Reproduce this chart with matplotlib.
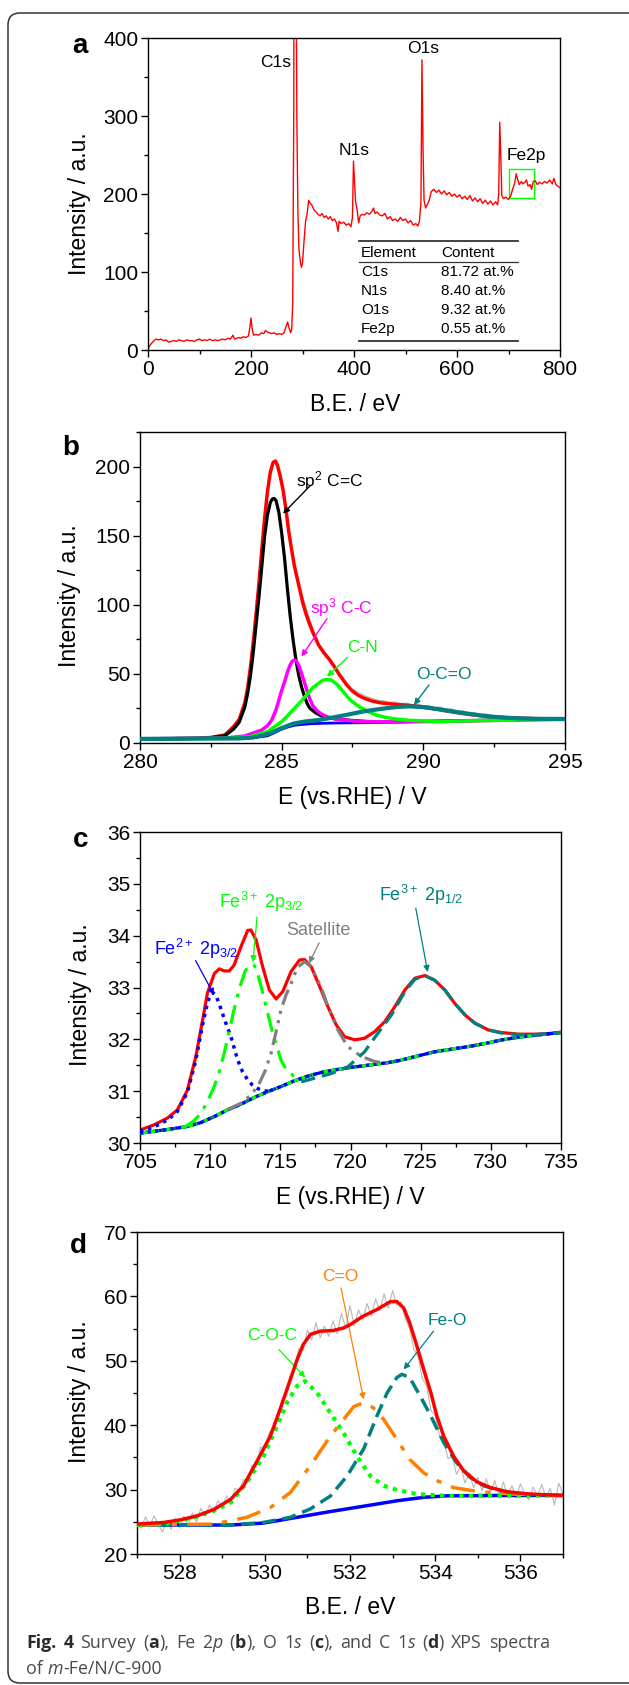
import numpy as np
import matplotlib
matplotlib.use("Agg")
import matplotlib.pyplot as plt
from matplotlib.ticker import MultipleLocator
from matplotlib.patches import FancyBboxPatch, Rectangle

plt.rcParams['font.family'] = ['Liberation Sans', 'DejaVu Sans']
plt.rcParams['mathtext.fontset'] = 'custom'
plt.rcParams['mathtext.rm'] = 'Liberation Sans'
plt.rcParams['mathtext.it'] = 'Liberation Sans:italic'
plt.rcParams['mathtext.bf'] = 'Liberation Sans:bold'

W, H = 629, 1685

# ---------------- panel a: survey ----------------
survey_be = [0, 2, 5, 10, 15, 20, 25, 30, 35, 40, 45, 50, 55, 60, 65, 70, 75, 80, 85, 90,
             95, 100, 105, 110, 115, 120, 125, 130, 135, 140, 145, 150, 155, 160, 165, 168,
             172, 176, 180, 185, 190, 195, 198, 200, 202, 205, 210, 215, 220, 225, 228, 232,
             236, 240, 245, 250, 255, 260, 264, 268, 271, 274, 277, 279, 281, 283, 285, 287,
             289, 291, 293, 296, 298, 300, 303, 306, 309, 312, 315, 318, 322, 326, 330, 334,
             338, 342, 346, 350, 354, 358, 362, 366, 369, 371, 375, 380, 385, 390, 394, 397,
             399, 401, 403, 406, 409, 412, 416, 420, 425, 430, 435, 438, 441, 445, 450, 455,
             460, 465, 470, 475, 480, 485, 490, 495, 500, 505, 510, 515, 520, 524, 527, 530,
             532, 534, 536, 539, 542, 546, 550, 555, 560, 565, 570, 575, 580, 585, 590, 595,
             600, 605, 610, 615, 620, 625, 630, 635, 640, 645, 650, 655, 660, 665, 670, 675,
             679, 681, 683, 685, 687, 690, 695, 700, 704, 708, 712, 715, 718, 721, 725, 728,
             732, 735, 738, 742, 745, 748, 752, 756, 760, 765, 770, 775, 780, 785, 788, 792,
             796, 800]
survey_cps = [1, 4, 7, 11, 14, 13, 14, 12, 13, 10, 11, 12, 11, 13, 12, 11, 13, 12, 12, 11,
              13, 14, 12, 13, 12, 14, 12, 13, 12, 13, 14, 13, 15, 14, 19, 14,
              15, 16, 15, 17, 16, 18, 30, 41, 28, 19, 20, 19, 22, 21, 25, 23,
              22, 21, 22, 20, 21, 20, 22, 30, 36, 28, 22, 26, 60, 300, 1000, 600,
              300, 180, 130, 112, 106, 112, 140, 165, 175, 192, 188, 186, 180, 177, 174, 172,
              175, 170, 172, 168, 171, 166, 168, 163, 152, 165, 162, 164, 160, 162, 158, 170,
              242, 215, 190, 180, 163, 172, 174, 173, 176, 174, 178, 182, 175, 177, 173, 172,
              175, 168, 171, 166, 168, 165, 170, 166, 168, 163, 166, 160, 162, 159, 165, 190,
              372, 260, 192, 182, 186, 192, 203, 206, 202, 205, 200, 204, 199, 202, 197, 200,
              196, 199, 194, 197, 193, 198, 191, 195, 190, 194, 188, 192, 187, 191, 186, 190,
              186, 200, 292, 250, 198, 194, 196, 193, 197, 206, 214, 226, 218, 212, 216, 213,
              215, 218, 210, 212, 206, 216, 217, 212, 215, 213, 216, 214, 218, 213, 220, 212,
              210, 208]
table_rows = [("C1s", "81.72 at.%"), ("N1s", "8.40 at.%"), ("O1s", "9.32 at.%"), ("Fe2p", "0.55 at.%")]

# ---------------- panel b: C 1s fit ----------------
b_env_x = [280, 281, 282, 282.5, 283.0, 283.3, 283.5, 283.7, 283.8, 283.9, 284.0, 284.1, 284.2,
           284.3, 284.4, 284.5, 284.6, 284.7, 284.78, 284.85, 284.95, 285.05, 285.15, 285.25,
           285.35, 285.45, 285.55, 285.65, 285.75, 285.85, 285.95, 286.1, 286.3, 286.5, 286.7,
           286.9, 287.05, 287.3, 287.5, 287.7, 287.9, 288.2, 288.5, 289.0, 289.5, 290.0, 290.5,
           291.0, 291.5, 292.0, 292.5, 293.0, 294.0, 295.0]
b_env_y = [3, 3.1, 3.5, 4, 5.8, 11.8, 17, 29, 40, 55, 73, 94, 116,
           140, 163, 182, 196, 203, 204, 201, 193, 183, 169, 153,
           140, 128, 119, 110, 101, 94, 88, 80, 71, 65, 60,
           54, 49, 42, 37.5, 34.5, 32.5, 30.3, 29, 28, 27.2, 26, 24.3,
           22.6, 21, 19.8, 18.9, 18.3, 17.6, 17.4]
b_raw_x = [285.6, 285.96, 286.3, 286.7, 287.05, 287.4, 287.6, 287.8, 288.0, 288.2, 288.4, 288.6,
           288.8, 289.0, 289.2, 289.4, 289.6, 289.8, 290.0, 290.2, 290.4, 290.6, 290.8, 291.0,
           291.2, 291.4, 291.6, 291.8, 292.0, 292.2, 292.4, 292.6, 292.8, 293.0, 293.5, 294.0, 295]
b_raw_y = [116, 91, 72, 61, 49, 39.5, 38, 35.5, 33.5, 32.2, 30.8, 30.6,
           29.4, 29.6, 28.4, 28.9, 27.6, 28.3, 27.0, 27.2, 25.6, 26.0, 24.3, 24.6,
           22.9, 23.4, 21.6, 22.0, 20.4, 21.0, 19.8, 19.6, 18.6, 18.8, 17.9, 17.7, 17.4]
b_sp2_x = [280, 282, 282.5, 283.0, 283.3, 283.5, 283.7, 283.8, 283.9, 284.0, 284.1, 284.2,
           284.3, 284.4, 284.5, 284.6, 284.67, 284.73, 284.8, 284.9, 285.0, 285.1, 285.2, 285.3,
           285.4, 285.5, 285.6, 285.7, 285.8, 285.9, 286.0, 286.2, 286.4, 286.7, 287.0, 287.5,
           288.1, 290, 292, 295]
b_sp2_y = [3, 3.3, 3.8, 5.3, 10, 15, 26, 36, 49, 66, 86, 106,
           128, 150, 165, 174, 176.5, 177, 175.5, 167, 152, 134, 112, 92,
           75, 60.6, 49, 40.7, 34, 28.5, 25, 21.8, 19.6, 18.1, 17.2, 16.3,
           15.4, 15.6, 16.4, 17.4]
b_sp3_x = [280, 283.0, 283.7, 284.3, 284.5, 284.65, 284.8, 285.0, 285.1, 285.2, 285.3, 285.38,
           285.45, 285.52, 285.6, 285.7, 285.8, 285.9, 286.0, 286.1, 286.25, 286.4, 286.6,
           286.9, 287.5, 288.1, 290.5, 295]
b_sp3_y = [3, 3.5, 5.1, 9.4, 12.5, 16.6, 24, 38, 44, 51, 56.5, 59.3,
           60, 59.2, 56.2, 50.5, 44, 37.5, 31.5, 27, 23.3, 21, 19,
           17.3, 16, 15.4, 15.5, 17.4]
b_cn_x = [280, 283.0, 283.9, 284.5, 285.0, 285.2, 285.45, 285.7, 285.93, 286.1, 286.29, 286.45,
          286.58, 286.75, 286.95, 287.2, 287.4, 287.6, 287.8, 288.05, 288.3, 288.65, 289.0,
          289.5, 290.5, 292, 295]
b_cn_y = [3, 3.4, 4.6, 8.2, 15.4, 19.5, 25, 30.5, 36, 40, 43, 45.3,
          46, 45.5, 42.5, 36.5, 31.5, 28.2, 25.5, 22.7, 20.5, 18.6, 17.4,
          16.4, 15.6, 16.2, 17.0]
b_oco_x = [280, 283.5, 284.0, 284.5, 284.75, 285.0, 285.25, 285.45, 285.8, 286.3, 286.9, 287.4,
           287.85, 288.3, 288.7, 289.1, 289.5, 290.0, 290.5, 291.0, 291.4, 291.9, 292.3, 292.8,
           293.4, 294, 295]
b_oco_y = [3, 3.3, 4, 6.5, 8.5, 10.8, 12.8, 14.2, 15.5, 16.6, 18.8, 20.8,
           22.7, 24.1, 25.2, 26.1, 26.5, 25.9, 24.6, 23.0, 21.7, 20.3, 19.3, 18.4,
           17.8, 17.5, 17.4]
b_base_x = [280, 283.5, 284.0, 284.5, 284.75, 285.0, 285.25, 285.5, 286.0, 286.5, 287, 288, 290,
            292, 295]
b_base_y = [3, 3.3, 3.8, 5.2, 7.5, 10, 11.8, 13, 13.9, 14.3, 14.5, 14.7, 15.5, 16.3, 17.4]

# ---------------- panel c: Fe 2p fit ----------------
c_env_x = [705.0, 706.0, 706.95, 707.67, 708.38, 708.98, 709.46, 709.8, 710.3, 710.65, 711.0,
           711.36, 711.7, 712.2, 712.67, 712.9, 713.27, 713.74, 714.22, 714.7, 715.17, 715.77,
           716.37, 716.72, 717.2, 717.8, 718.39, 718.98, 719.58, 720.3, 721.0, 721.73, 722.44,
           723.16, 723.87, 724.59, 725.3, 726.0, 726.73, 727.44, 728.16, 728.87, 729.83, 730.78,
           731.97, 733.16, 734.1, 735.0]
c_env_y = [30.25, 30.35, 30.48, 30.64, 31.02, 31.67, 32.37, 32.89, 33.27, 33.36, 33.32,
           33.32, 33.43, 33.79, 34.10, 34.11, 33.92, 33.4, 32.95, 32.78, 32.92, 33.31,
           33.53, 33.54, 33.4, 33.02, 32.63, 32.28, 32.05, 31.99, 32.02, 32.15, 32.34,
           32.63, 32.95, 33.18, 33.23, 33.14, 32.95, 32.69, 32.47, 32.31, 32.18, 32.13,
           32.10, 32.10, 32.11, 32.14]
c_base_x = [705.0, 706.95, 708.38, 709.3, 710.3, 711.24, 712.2, 713.15, 714.1, 715.05, 716.0,
            716.96, 717.9, 718.87, 720.06, 721.25, 722.68, 723.63, 724.8, 726.0, 727.2, 728.4,
            729.6, 730.8, 731.97, 733.16, 735.0]
c_base_y = [30.19, 30.26, 30.32, 30.39, 30.51, 30.64, 30.75, 30.88, 30.99, 31.09, 31.2,
            31.29, 31.36, 31.41, 31.46, 31.5, 31.55, 31.6, 31.68, 31.76, 31.81, 31.86,
            31.92, 31.99, 32.04, 32.08, 32.13]
c_fe2_x = [705.0, 706.0, 707.0, 707.67, 708.38, 708.98, 709.46, 709.8, 710.0, 710.2, 710.4,
           710.6, 710.9, 711.2, 711.48, 711.96, 712.3, 712.67, 713.0, 713.39, 713.8, 714.34]
c_fe2_y = [30.22, 30.31, 30.45, 30.61, 30.98, 31.6, 32.28, 32.7, 32.85, 32.9, 32.85,
           32.72, 32.48, 32.25, 32.05, 31.6, 31.38, 31.22, 31.12, 31.05, 31.01, 30.99]
c_fe3a_x = [708.15, 708.8, 709.34, 709.8, 710.29, 710.65, 711.0, 711.35, 711.7, 712.1, 712.5,
            712.8, 713.0, 713.15, 713.3, 713.63, 714.0, 714.34, 714.7, 715.05, 715.4, 715.77, 716.1]
c_fe3a_y = [30.3, 30.42, 30.57, 30.8, 31.09, 31.38, 31.73, 32.15, 32.57, 33.0, 33.32,
            33.43, 33.45, 33.42, 33.35, 33.02, 32.62, 32.24, 31.9, 31.6, 31.42, 31.34, 31.24]
c_sat_x = [711.24, 712.2, 712.8, 713.39, 713.9, 714.34, 714.7, 715.05, 715.4, 715.77, 716.2,
           716.72, 717.2, 717.68, 718.05, 718.39, 718.75, 719.1, 719.8, 720.77, 721.73, 722.68]
c_sat_y = [30.64, 30.77, 30.9, 31.09, 31.38, 31.73, 32.15, 32.57, 32.85, 33.08, 33.38,
           33.5, 33.4, 33.14, 32.9, 32.63, 32.4, 32.18, 31.86, 31.67, 31.57, 31.54]
c_fe3b_x = [716.49, 717.44, 718.63, 719.82, 721.0, 721.96, 722.92, 723.87, 724.59, 725.3,
            726.0, 726.73, 727.44, 728.16, 728.87, 729.83, 730.78, 731.97, 733.16, 735.0]
c_fe3b_y = [31.18, 31.25, 31.34, 31.47, 31.76, 32.12, 32.47, 32.92, 33.16, 33.23,
            33.14, 32.95, 32.69, 32.47, 32.31, 32.18, 32.12, 32.09, 32.09, 32.13]

# ---------------- panel d: O 1s fit ----------------
d_env_x = [527.0, 527.63, 528.02, 528.4, 528.8, 529.2, 529.5, 529.8, 530.13, 530.36, 530.6,
           530.76, 530.9, 531.07, 531.3, 531.6, 531.85, 532.0, 532.3, 532.63, 532.95, 533.1,
           533.26, 533.4, 533.57, 533.73, 533.9, 534.04, 534.2, 534.43, 534.67, 534.98, 535.3,
           535.7, 536.23, 537.0]
d_env_y = [24.65, 24.9, 25.3, 25.9, 26.9, 28.5, 30.6, 34.2, 38.3, 42.5, 47.1,
           50.2, 52.5, 54.1, 54.6, 54.7, 55.1, 55.6, 56.9, 57.95, 59.2, 59.2,
           58.2, 55.9, 52.3, 48.65, 45.0, 41.4, 38.3, 35.2, 32.9, 31.2, 30.3,
           29.65, 29.3, 29.1]
d_raw_y = [25.5, 24.0, 25.8, 24.3, 25.9, 24.6, 23.4, 25.2, 23.8, 25.6, 24.1, 25.9, 24.5, 26.4,
           25.0, 27.1, 25.9, 27.6, 26.5, 28.3, 27.2, 29.0, 28.1, 30.2, 29.8, 31.6, 31.0, 33.8,
           33.5, 36.6, 36.2, 38.8, 39.6, 41.0, 43.8, 45.2, 47.8, 49.0, 51.9, 51.6, 54.8, 53.2,
           55.9, 53.6, 55.4, 53.8, 56.2, 54.2, 57.4, 55.0, 58.6, 55.4, 57.9, 56.3, 58.9, 57.0,
           59.6, 57.8, 60.4, 58.2, 60.9, 58.6, 59.2, 56.5, 55.0, 51.8, 50.6, 47.2, 46.1, 42.3,
           41.5, 38.4, 37.6, 34.8, 35.2, 32.4, 33.6, 31.0, 32.6, 30.3, 31.9, 29.8, 31.7, 29.6,
           31.4, 28.9, 31.2, 29.1, 30.6, 28.7, 30.9, 29.3, 28.4, 30.4, 29.0, 30.8, 28.8, 30.2,
           27.6, 31.0, 29.4]
d_raw_x = np.round(np.linspace(527.0, 537.0, len(d_raw_y)), 2)
d_base_x = [527.0, 529.2, 529.97, 530.76, 531.5, 532.3, 533.1, 533.73, 534.28, 535.45, 537.0]
d_base_y = [24.5, 24.5, 24.8, 25.7, 26.55, 27.4, 28.26, 28.8, 29.03, 29.08, 29.1]
d_coc_x = [527.0, 527.63, 528.02, 528.4, 528.8, 529.2, 529.58, 529.97, 530.29, 530.52, 530.76,
           530.95, 531.23, 531.54, 531.85, 532.16, 532.48, 532.79, 533.1, 533.57, 534.28, 537.0]
d_coc_y = [24.5, 24.65, 25.2, 25.8, 26.7, 28.0, 31.1, 35.2, 39.9, 43.5, 46.1,
           46.85, 45.0, 41.9, 38.8, 35.2, 32.1, 30.6, 29.96, 29.3, 29.03, 29.1]
d_co_x = [527.0, 528.8, 529.58, 530.13, 530.6, 531.07, 531.54, 531.85, 532.09, 532.32, 532.55,
          532.79, 533.1, 533.4, 533.73, 534.04, 534.43, 535.06, 535.84, 537.0]
d_co_y = [24.5, 24.65, 25.7, 27.2, 29.55, 33.7, 38.3, 40.9, 42.9, 43.5, 42.7,
          40.9, 37.8, 34.7, 32.6, 31.4, 30.3, 29.65, 29.3, 29.1]
d_feo_x = [527.0, 529.2, 529.97, 530.6, 531.07, 531.54, 531.93, 532.32, 532.63, 532.87, 533.1,
           533.22, 533.4, 533.65, 533.9, 534.2, 534.5, 534.82, 535.14, 535.6, 536.23, 537.0]
d_feo_y = [24.5, 24.5, 24.9, 25.7, 27.0, 29.0, 32.1, 36.3, 41.4, 45.0, 47.4,
           47.9, 47.4, 44.5, 41.4, 37.3, 34.2, 31.9, 30.6, 29.65, 29.24, 29.1]

RED = '#ff0000'
BLUE = '#0000ff'
GREEN = '#00ff00'
TEAL = '#008080'
MAGENTA = '#ff00ff'
GRAY = '#808080'
ORANGE = '#ff8000'

fig = plt.figure(figsize=(W / 100, H / 100), dpi=100)


def px_axes(left, top, right, bottom):
    return fig.add_axes([left / W, 1 - bottom / H, (right - left) / W, (bottom - top) / H])


def style_axes(ax, xlim, ylim, xmaj, xmin, ymaj, ymin, xlabel, ylabel, xl_pos, yl_pos):
    ax.set_xlim(*xlim)
    ax.set_ylim(*ylim)
    ax.xaxis.set_major_locator(MultipleLocator(xmaj))
    ax.xaxis.set_minor_locator(MultipleLocator(xmin))
    ax.yaxis.set_major_locator(MultipleLocator(ymaj))
    ax.yaxis.set_minor_locator(MultipleLocator(ymin))
    ax.tick_params(which='both', direction='out', top=False, right=False, width=1.0,
                   labelsize=15, pad=2)
    ax.tick_params(which='major', length=5)
    ax.tick_params(which='minor', length=3)
    for s in ax.spines.values():
        s.set_linewidth(1.0)
    ax.set_xlabel(xlabel, fontsize=16.5)
    ax.set_ylabel(ylabel, fontsize=16.5)
    ax.xaxis.set_label_coords(*xl_pos)
    ax.yaxis.set_label_coords(*yl_pos)
    ax.xaxis.label.set_va('center')
    ax.yaxis.label.set_va('center')


def arrow(ax, tail, head, color, lw=1.0):
    ax.annotate('', xy=head, xytext=tail,
                arrowprops=dict(arrowstyle='-|>', color=color, lw=lw, mutation_scale=9,
                                shrinkA=0, shrinkB=0))


# ---- a ----
ax = px_axes(148, 38, 560, 350)
ax.plot(survey_be, survey_cps, color=RED, lw=1.0)
ax.add_patch(Rectangle((701, 195), 49, 37, fill=False, edgecolor=GREEN, lw=1.0))
ax.text(277, 368, 'C1s', fontsize=12.5, ha='right', va='center')
ax.text(534, 386, 'O1s', fontsize=12.5, ha='center', va='center')
ax.text(400, 256, 'N1s', fontsize=12.5, ha='center', va='center')
ax.text(735, 250, 'Fe2p', fontsize=12.5, ha='center', va='center')
ax.plot([409, 718], [140, 140], color='#333333', lw=1.3)
ax.plot([409, 718], [113, 113], color='#333333', lw=0.9)
ax.plot([409, 718], [11.5, 11.5], color='#333333', lw=1.3)
ax.text(414, 125, 'Element', fontsize=11, va='center')
ax.text(569, 125, 'Content', fontsize=11, va='center')
for i, (el, ct) in enumerate(table_rows):
    yy = 100 - i * 24.3
    ax.text(414, yy, el, fontsize=11, va='center')
    ax.text(569, yy, ct, fontsize=11, va='center')
style_axes(ax, (0, 800), (0, 400), 200, 100, 100, 50, 'B.E. / eV', 'Intensity / a.u.',
           (0.502, -0.176), (-0.167, 0.47))

# ---- b ----
ax = px_axes(140, 432, 565, 743)
ax.plot(b_raw_x, b_raw_y, color='#b0b0b0', lw=0.8, zorder=1)
ax.plot(b_base_x, b_base_y, color=BLUE, lw=2.0, zorder=2)
ax.plot(b_env_x, b_env_y, color=RED, lw=2.5, zorder=3)
ax.plot(b_sp2_x, b_sp2_y, color='black', lw=2.3, zorder=4)
ax.plot(b_sp3_x, b_sp3_y, color=MAGENTA, lw=2.5, zorder=4)
ax.plot(b_cn_x, b_cn_y, color=GREEN, lw=2.5, zorder=4)
ax.plot(b_oco_x, b_oco_y, color=TEAL, lw=3.0, zorder=5)
ax.text(285.5, 190, 'sp$^{\\mathrm{2}}$ C=C', fontsize=12.5, va='center')
arrow(ax, (286.0, 186), (285.05, 166), 'black')
ax.text(286.0, 98, 'sp$^{\\mathrm{3}}$ C-C', fontsize=12.5, va='center', color=MAGENTA)
arrow(ax, (286.6, 90), (285.7, 62.5), MAGENTA)
ax.text(287.3, 69, 'C-N', fontsize=12.5, va='center', color=GREEN)
arrow(ax, (287.33, 62), (286.6, 48), GREEN)
ax.text(289.75, 49.5, 'O-C=O', fontsize=12.5, va='center', color=TEAL)
arrow(ax, (290.2, 42), (289.67, 27.5), TEAL)
style_axes(ax, (280, 295), (0, 225), 5, 2.5, 50, 25, 'E (vs.RHE) / V', 'Intensity / a.u.',
           (0.5, -0.174), (-0.165, 0.473))

# ---- c ----
ax = px_axes(140, 832, 561, 1143)
dot = (0, (1, 1.4))
dashdot = (0, (6, 2.5, 1.2, 2.5))
dashdotdot = (0, (5, 2, 1, 2, 1, 2))
dash = (0, (4.5, 2.2))
ax.plot(c_env_x, c_env_y, color=RED, lw=2.3, zorder=2)
ax.plot(c_base_x, c_base_y, color=BLUE, lw=2.3, zorder=3)
ax.plot(c_base_x, c_base_y, color=TEAL, lw=2.3, ls=dash, zorder=3)
ax.plot(c_base_x, c_base_y, color=GREEN, lw=2.3, ls=dashdot, zorder=3)
ax.plot(c_base_x, c_base_y, color=BLUE, lw=2.3, ls=dot, zorder=3)
ax.plot(c_fe2_x, c_fe2_y, color=BLUE, lw=2.5, ls=dot, zorder=4)
ax.plot(c_fe3a_x, c_fe3a_y, color=GREEN, lw=2.3, ls=dashdot, zorder=4)
ax.plot(c_sat_x, c_sat_y, color=GRAY, lw=2.3, ls=dashdotdot, zorder=4)
ax.plot(c_fe3b_x, c_fe3b_y, color=TEAL, lw=2.3, ls=dash, zorder=4)
ax.text(706.0, 33.75, 'Fe$^{\\mathrm{2+}}$ 2p$_{\\mathrm{3/2}}$', fontsize=13, color=BLUE, va='center')
arrow(ax, (708.96, 33.52), (710.27, 32.86), BLUE, lw=0.9)
ax.text(710.6, 34.65, 'Fe$^{\\mathrm{3+}}$ 2p$_{\\mathrm{3/2}}$', fontsize=13, color=GREEN, va='center')
arrow(ax, (713.34, 34.36), (713.05, 33.49), GREEN, lw=0.9)
ax.text(715.4, 34.1, 'Satellite', fontsize=13, color=GRAY, va='center')
arrow(ax, (717.76, 33.86), (717.05, 33.47), GRAY, lw=0.9)
ax.text(722.0, 34.78, 'Fe$^{\\mathrm{3+}}$ 2p$_{\\mathrm{1/2}}$', fontsize=13, color=TEAL, va='center')
arrow(ax, (724.65, 34.53), (725.5, 33.3), TEAL, lw=0.9)
style_axes(ax, (705, 735), (30, 36), 5, 2.5, 1, 0.5, 'E (vs.RHE) / V', 'Intensity / a.u.',
           (0.5, -0.174), (-0.142, 0.476))

# ---- d ----
ax = px_axes(137, 1232, 563, 1554)
ax.plot(d_raw_x, d_raw_y, color='#b8b8b8', lw=0.8, zorder=1)
ax.plot(d_base_x, d_base_y, color=BLUE, lw=2.5, zorder=2)
ax.plot(d_feo_x, d_feo_y, color=TEAL, lw=2.5, ls=(0, (4, 2)), zorder=3)
ax.plot(d_co_x, d_co_y, color=ORANGE, lw=2.5, ls=(0, (7, 3, 1.5, 3)), zorder=3)
ax.plot(d_coc_x, d_coc_y, color=GREEN, lw=3.0, ls=(0, (1, 1.3)), zorder=3)
ax.plot(d_env_x, d_env_y, color=RED, lw=2.5, zorder=4)
ax.text(530.18, 54.0, 'C-O-C', fontsize=12.5, color=GREEN, ha='center', va='center')
arrow(ax, (530.33, 51.75), (530.95, 47.4), GREEN, lw=0.9)
ax.text(531.77, 63.1, 'C=O', fontsize=12.5, color=ORANGE, ha='center', va='center')
arrow(ax, (531.79, 61.3), (532.32, 44.0), ORANGE, lw=0.9)
ax.text(534.28, 56.3, 'Fe-O', fontsize=12.5, color=TEAL, ha='center', va='center')
arrow(ax, (533.96, 54.6), (533.26, 48.65), TEAL, lw=0.9)
style_axes(ax, (527, 537), (20, 70), 2, 1, 10, 5, 'B.E. / eV', 'Intensity / a.u.',
           (0.5, -0.165), (-0.134, 0.503))

# panel letters
for letter, (lx, ly) in zip('abcd', [(80, 53), (71, 455), (81, 847), (78, 1253)]):
    fig.text(lx / W, 1 - ly / H, letter, fontsize=20, weight='bold', ha='center', va='baseline')

# frame
fig.patches.append(FancyBboxPatch((0.08, 0.02), 6.34, 16.70, boxstyle='round,pad=0,rounding_size=0.12',
                                  transform=fig.dpi_scale_trans, fill=False, edgecolor='#333333',
                                  lw=1.1))

# caption (first line justified to the column width)
renderer = fig.canvas.get_renderer()


def rich_line(x0, y_px, words, size=12.8, x1=None):
    placed = []
    total = 0
    for word in words:
        parts = []
        for s, (weight, style) in word:
            col = '#2b2b2b' if weight == 'bold' else '#4a4a4a'
            t = fig.text(0, 1 - y_px / H, s, fontsize=size, weight=weight, style=style,
                         family=['Open Sans', 'DejaVu Sans'], color=col, va='baseline')
            w = t.get_window_extent(renderer).width
            parts.append((t, w))
            total += w
        placed.append(parts)
    if x1 is None:
        gap = 0.27 * size * 100 / 72
    else:
        gap = (x1 - x0 - total) / (len(words) - 1)
    x = x0
    for parts in placed:
        for t, w in parts:
            t.set_x(x / W)
            x += w
        x += gap


n, b, i = ('normal', 'normal'), ('bold', 'normal'), ('normal', 'italic')
line1 = [[("Fig.", b)], [("4", b)], [("Survey", n)], [("(", n), ("a", b), ("),", n)], [("Fe", n)],
         [("2", n), ("p", i)], [("(", n), ("b", b), ("),", n)], [("O", n)], [("1", n), ("s", i)],
         [("(", n), ("c", b), ("),", n)], [("and", n)], [("C", n)], [("1", n), ("s", i)],
         [("(", n), ("d", b), (")", n)], [("XPS", n)], [("spectra", n)]]
line2 = [[("of", n)], [("m", i), ("-Fe/N/C-900", n)]]
rich_line(26, 1648, line1, x1=550)
rich_line(26, 1674, line2)

fig.savefig('out.png', dpi=100)
